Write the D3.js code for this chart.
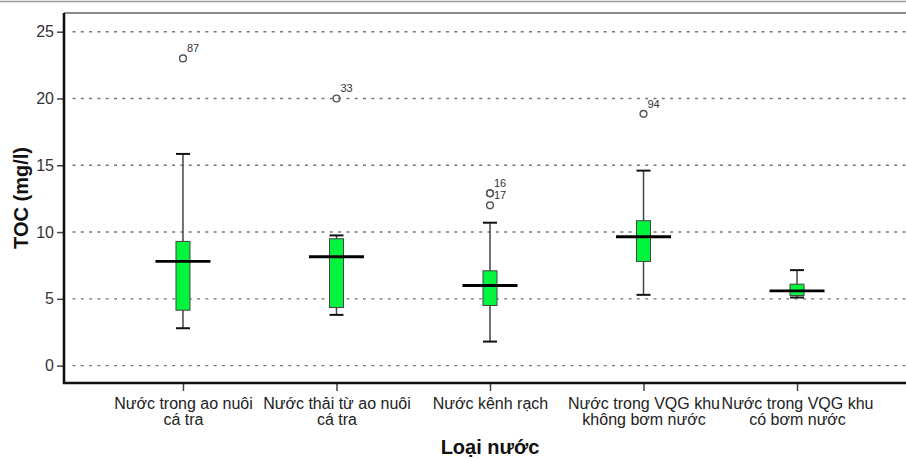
<!DOCTYPE html>
<html>
<head>
<meta charset="utf-8">
<script src="https://cdn.jsdelivr.net/npm/d3@7"></script>
<style>
  body { margin: 0; background: #fff; }
  svg { display: block; font-family: Arial, "Liberation Sans", sans-serif; }
</style>
</head>
<body>
<svg id="chart" width="906" height="459"></svg>
<script>
// categories, one entry per box (lines of the tick label)
var categories = [
  ['Nước trong ao nuôi', 'cá tra'],
  ['Nước thải từ ao nuôi', 'cá tra'],
  ['Nước kênh rạch'],
  ['Nước trong VQG khu', 'không bơm nước'],
  ['Nước trong VQG khu', 'có bơm nước']
];

var whiskerLow  = [2.8, 3.8, 1.8, 5.3, 5.1];
var q1          = [4.15, 4.35, 4.5, 7.8, 5.25];
var centerLine  = [7.8, 8.15, 6.0, 9.65, 5.6];
var q3          = [9.3, 9.5, 7.1, 10.85, 6.1];
var whiskerHigh = [15.85, 9.75, 10.7, 14.6, 7.15];

// outliers: group index, value, case label
var outlierGroups = [0, 1, 2, 2, 2, 3];
var outlierValues = [23.0, 20.0, 12.9, 12.9, 12.0, 18.85];
var outlierLabels = ['87', '33', '16', '', '17', '94'];

var yTicks = [0, 5, 10, 15, 20, 25];

var xTitle = 'Loại nước';
var yTitle = 'TOC (mg/l)';

var svg = d3.select('#chart');

var width = 906;
var plotLeft = 64, plotTop = 13, plotBottom = 383, plotRight = 916;

var keys = categories.map(function (c, i) { return i; });

var x = d3.scalePoint()
  .domain(keys)
  .range([plotLeft, plotRight])
  .padding(0.775);

var y = d3.scaleLinear()
  .domain([-1.3, 26.4])
  .range([plotBottom, plotTop]);

/**
 * Frame lines
 */
svg.append('line')
  .attr('x1', 0).attr('x2', width)
  .attr('y1', 1.5).attr('y2', 1.5)
  .attr('stroke', '#999')
  .attr('stroke-width', 1.5);

svg.append('line')
  .attr('x1', plotLeft).attr('x2', width)
  .attr('y1', plotTop).attr('y2', plotTop)
  .attr('stroke', '#666')
  .attr('stroke-width', 1.5);

///////////
// GRID
svg.append('g')
  .attr('class', 'grid')
  .selectAll('line')
  .data(yTicks)
  .enter()
  .append('line')
  .attr('x1', plotLeft + 8.5)
  .attr('x2', width)
  .attr('y1', function (d) { return y(d); })
  .attr('y2', function (d) { return y(d); })
  .attr('stroke', '#777')
  .attr('stroke-width', 1.4)
  .attr('stroke-dasharray', '3,5.3');

///////////
// AXES
var yAxis = svg.append('g')
  .attr('transform', 'translate(' + plotLeft + ',0)')
  .call(d3.axisLeft(y).tickValues(yTicks).tickSize(7).tickPadding(3));

yAxis.select('.domain').remove();
yAxis.selectAll('.tick line').attr('stroke', '#444').attr('stroke-width', 1.5);
yAxis.selectAll('.tick text')
  .attr('fill', '#333')
  .style('font-size', '16px')
  .style('font-family', 'Arial, "Liberation Sans", sans-serif');

var xAxis = svg.append('g')
  .attr('transform', 'translate(0,' + plotBottom + ')')
  .call(d3.axisBottom(x).tickSize(8).tickFormat(''));

xAxis.select('.domain').remove();
xAxis.selectAll('.tick line').attr('stroke', '#444').attr('stroke-width', 1.5);

var xLabel = xAxis.selectAll('.tick')
  .append('text')
  .attr('fill', '#222')
  .attr('text-anchor', 'middle')
  .style('font-size', '16px')
  .style('font-family', 'Arial, "Liberation Sans", sans-serif');

xLabel.selectAll('tspan')
  .data(function (d) { return categories[d]; })
  .enter()
  .append('tspan')
  .attr('x', 0)
  .attr('y', function (d, i) { return 26 + i * 15.5; })
  .text(function (d) { return d; });

// axis lines drawn on top
svg.append('line')
  .attr('x1', plotLeft).attr('x2', plotLeft)
  .attr('y1', plotTop).attr('y2', plotBottom + 1)
  .attr('stroke', '#111')
  .attr('stroke-width', 2.6);

svg.append('line')
  .attr('x1', plotLeft - 1).attr('x2', width)
  .attr('y1', plotBottom).attr('y2', plotBottom)
  .attr('stroke', '#111')
  .attr('stroke-width', 2.6);

///////////
// BOXES
var boxHalf = 7, capHalf = 7, lineHalf = 27.5;

var boxes = svg.append('g')
  .attr('class', 'boxes')
  .selectAll('g.box')
  .data(keys)
  .enter()
  .append('g')
  .attr('class', 'box');

// whiskers
boxes.append('line')
  .attr('x1', function (i) { return x(i); })
  .attr('x2', function (i) { return x(i); })
  .attr('y1', function (i) { return y(whiskerHigh[i]); })
  .attr('y2', function (i) { return y(whiskerLow[i]); })
  .attr('stroke', '#444')
  .attr('stroke-width', 1.5);

boxes.selectAll('line.cap')
  .data(function (i) { return [[i, whiskerHigh[i]], [i, whiskerLow[i]]]; })
  .enter()
  .append('line')
  .attr('class', 'cap')
  .attr('x1', function (d) { return x(d[0]) - capHalf; })
  .attr('x2', function (d) { return x(d[0]) + capHalf; })
  .attr('y1', function (d) { return y(d[1]); })
  .attr('y2', function (d) { return y(d[1]); })
  .attr('stroke', '#111')
  .attr('stroke-width', 2);

boxes.append('rect')
  .attr('x', function (i) { return x(i) - boxHalf; })
  .attr('width', boxHalf * 2)
  .attr('y', function (i) { return y(q3[i]); })
  .attr('height', function (i) { return y(q1[i]) - y(q3[i]); })
  .attr('fill', '#00f53c')
  .attr('stroke', '#444')
  .attr('stroke-width', 1);

boxes.append('line')
  .attr('x1', function (i) { return x(i) - lineHalf; })
  .attr('x2', function (i) { return x(i) + lineHalf; })
  .attr('y1', function (i) { return y(centerLine[i]); })
  .attr('y2', function (i) { return y(centerLine[i]); })
  .attr('stroke', '#000')
  .attr('stroke-width', 2.8);

///////////
// OUTLIERS
var outliers = outlierValues.map(function (v, i) {
  return { group: outlierGroups[i], value: v, label: outlierLabels[i] };
});

var outlierG = svg.append('g').attr('class', 'outliers');

outlierG.selectAll('circle')
  .data(outliers)
  .enter()
  .append('circle')
  .attr('cx', function (d) { return x(d.group); })
  .attr('cy', function (d) { return y(d.value); })
  .attr('r', 3.4)
  .attr('fill', 'none')
  .attr('stroke', '#555')
  .attr('stroke-width', 1.4);

outlierG.selectAll('text')
  .data(outliers.filter(function (d) { return d.label; }))
  .enter()
  .append('text')
  .attr('x', function (d) { return x(d.group) + 4; })
  .attr('y', function (d) { return y(d.value) - 6; })
  .attr('fill', '#333')
  .style('font-size', '11px')
  .text(function (d) { return d.label; });

///////////
// TITLES
svg.append('text')
  .attr('x', x(2))
  .attr('y', 454)
  .attr('text-anchor', 'middle')
  .style('font-size', '20px')
  .style('font-weight', 'bold')
  .attr('fill', '#111')
  .text(xTitle);

svg.append('text')
  .attr('transform', 'translate(28,' + ((plotTop + plotBottom) / 2) + ') rotate(-90)')
  .attr('text-anchor', 'middle')
  .style('font-size', '20px')
  .style('font-weight', 'bold')
  .attr('fill', '#111')
  .text(yTitle);
</script>
</body>
</html>
